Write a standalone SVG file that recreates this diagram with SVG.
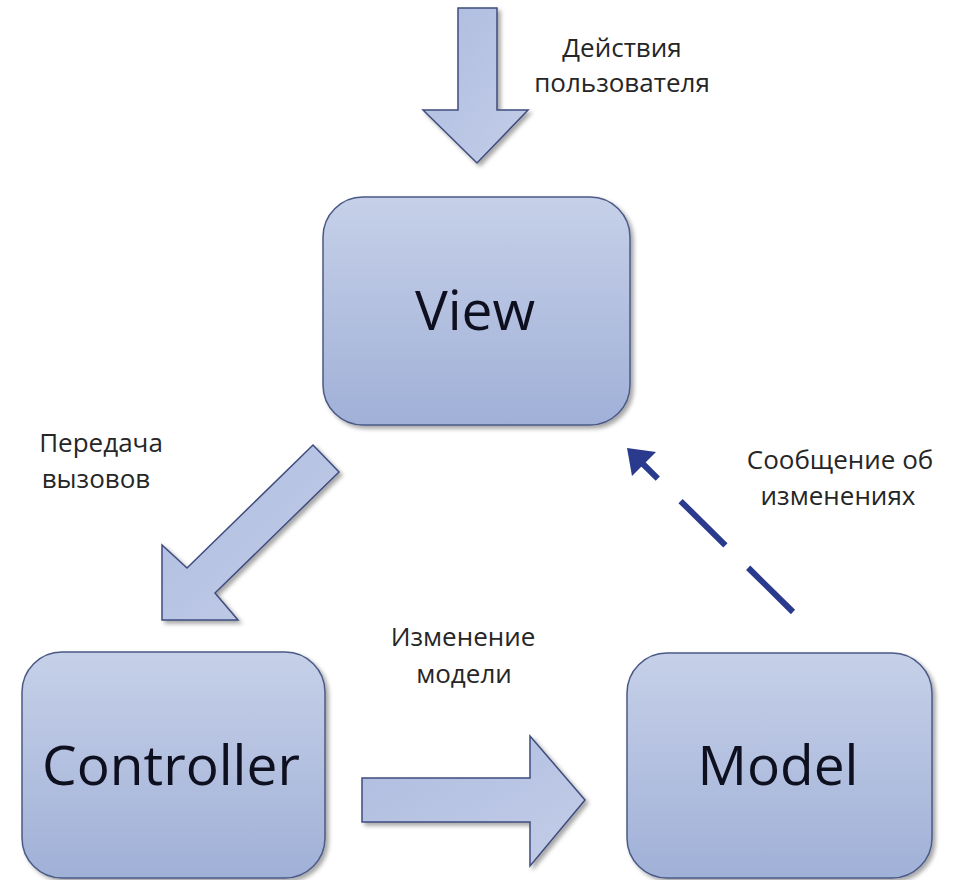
<svg xmlns="http://www.w3.org/2000/svg" width="957" height="880" viewBox="0 0 957 880">
<defs>
<linearGradient id="boxGrad" x1="0" y1="0" x2="0" y2="1">
<stop offset="0" stop-color="#c6d0e8"/>
<stop offset="1" stop-color="#a0b0d7"/>
</linearGradient>
<linearGradient id="arrGrad" x1="0" y1="0" x2="1" y2="1">
<stop offset="0" stop-color="#aebcdf"/>
<stop offset="1" stop-color="#c3cde8"/>
</linearGradient>
<filter id="shadow" x="-10%" y="-10%" width="125%" height="125%">
<feDropShadow dx="3" dy="3" stdDeviation="2" flood-color="#000" flood-opacity="0.35"/>
</filter>
</defs>
<style>
.box{fill:url(#boxGrad);stroke:#4b5a86;stroke-width:1.5;filter:url(#shadow)}
.blk{fill:url(#arrGrad);stroke:#3f4c7e;stroke-width:1.5;stroke-linejoin:miter;filter:url(#shadow)}
.big{font-family:"Open Sans","Noto Sans",sans-serif;font-size:55px;fill:#0e1020;text-anchor:middle}
.lbl{font-family:"Open Sans","Noto Sans",sans-serif;font-size:26px;fill:#262626;text-anchor:middle}
.dash{fill:none;stroke:#2a3a8c;stroke-width:6;stroke-dasharray:63 32;stroke-linecap:butt}
</style>
<rect width="957" height="880" fill="#ffffff"/>
<g id="connectors">
<g id="user-actions">
<polygon class="blk" points="458,8 497,8 497,110 528,110 477,163 423,110 458,110"/>
<text class="lbl" x="622" y="57">Действия</text>
<text class="lbl" x="622" y="92">пользователя</text>
</g>
<g id="view-to-controller">
<polygon class="blk" points="313,445 339,472 215,593 238,620 162,620 162,545 187,568"/>
<text class="lbl" x="101" y="452">Передача</text>
<text class="lbl" x="96" y="488">вызовов</text>
</g>
<g id="controller-to-model">
<polygon class="blk" points="362,778 530,778 530,736 585,800 530,866 530,822 362,822"/>
<text class="lbl" x="463" y="646">Изменение</text>
<text class="lbl" x="464" y="683">модели</text>
</g>
<g id="model-to-view">
<path class="dash" d="M793,612 L640,461"/>
<polygon points="627,448 656,452 632,476" fill="#2a3a8c"/>
<text class="lbl" x="840" y="469">Сообщение об</text>
<text class="lbl" x="838" y="505">изменениях</text>
</g>
</g>
<g id="view">
<rect class="box" x="323" y="197" width="307" height="228" rx="40" ry="40"/>
<text class="big" x="475" y="330">View</text>
</g>
<g id="controller">
<rect class="box" x="22" y="652" width="303" height="226" rx="40" ry="40"/>
<text class="big" x="171" y="785">Controller</text>
</g>
<g id="model">
<rect class="box" x="627" y="653" width="305" height="225" rx="40" ry="40"/>
<text class="big" x="778" y="785">Model</text>
</g>
</svg>
